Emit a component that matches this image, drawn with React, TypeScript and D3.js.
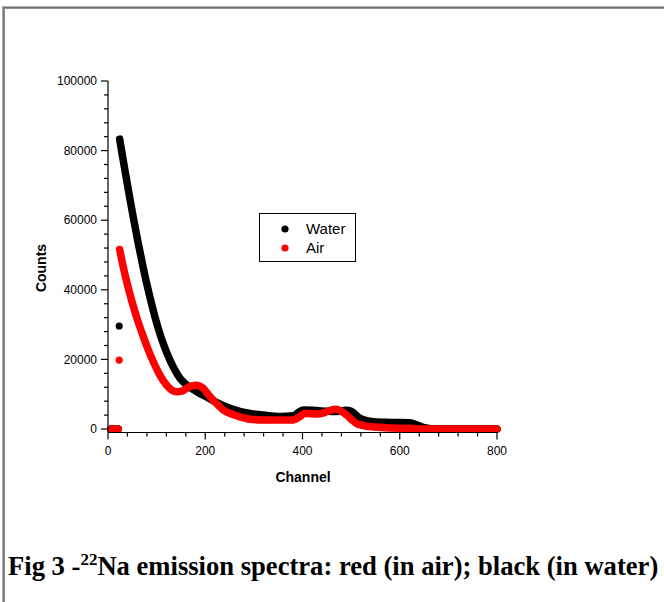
import React from "react";
import * as d3 from "d3";

const xTicks = [0, 200, 400, 600, 800];
const yTicks = [0, 20000, 40000, 60000, 80000, 100000];

// zero-count channels at the start of each spectrum
const zeroChannels = [6, 10, 14, 18, 21];

// Water (black) spectrum: [channel, counts]
const waterSpectrum: [number, number][] = [
  [24, 83300], [30, 78300], [36, 73400], [44, 67000], [52, 60800], [62, 53500],
  [73, 46000], [85, 38600], [97, 32000], [109, 26400], [121, 21900], [135, 17600],
  [148, 14600], [165, 12300], [182, 10800], [200, 9400], [224, 7600], [248, 6100],
  [271, 5100], [292, 4500], [320, 4000], [354, 3600], [381, 3800], [392, 4800],
  [402, 5500], [429, 5300], [450, 5100], [470, 5000], [490, 5400], [500, 5100],
  [518, 3100], [532, 2400], [546, 2100], [580, 1900], [621, 1800], [635, 1200],
  [648, 500], [665, 100], [700, 0], [800, 0],
];

// Air (red) spectrum: [channel, counts]
const airSpectrum: [number, number][] = [
  [24, 51600], [31, 46800], [38, 42600], [45, 38800], [52, 35300], [62, 30800],
  [73, 26400], [83, 22700], [93, 19400], [107, 15400], [121, 12500], [131, 11200],
  [141, 10700], [152, 10900], [162, 11700], [172, 12400], [182, 12600], [195, 11800],
  [210, 9300], [224, 7200], [237, 5500], [254, 4300], [271, 3500], [292, 2800],
  [320, 2600], [354, 2600], [381, 2600], [394, 3500], [405, 4500], [429, 4300],
  [445, 4700], [456, 5300], [469, 5700], [480, 5100], [491, 4000], [501, 2700],
  [511, 1600], [525, 1000], [539, 700], [580, 300], [621, 200], [650, 0], [800, 0],
];

// isolated points just before each spectrum's onset
const waterOutlier: [number, number] = [23, 29600];
const airOutlier: [number, number] = [23, 19800];

const series = [
  { name: "Water", color: "#000000", data: waterSpectrum, outlier: waterOutlier },
  { name: "Air", color: "#ff0000", data: airSpectrum, outlier: airOutlier },
];

const W = 664;
const H = 602;

export default function App() {
  const x = d3.scaleLinear().domain([0, 800]).range([108, 497]);
  const y = d3.scaleLinear().domain([-1000, 100000]).range([432.5, 81]);
  const line = d3
    .line<[number, number]>()
    .x((d) => x(d[0]))
    .y((d) => y(d[1]))
    .curve(d3.curveMonotoneX);

  const xMinor = d3.range(0, 801, 40).filter((v) => !xTicks.includes(v));
  const yMinor = d3.range(0, 100001, 4000).filter((v) => !yTicks.includes(v));
  const axisY = y(-1000);
  const font = "'Liberation Sans', Arial, sans-serif";

  return (
    <svg
      width={W}
      height={H}
      style={{ position: "absolute", left: 0, top: 0, background: "#fff" }}
    >
      {/* outer frame */}
      <rect x={2.5} y={6.5} width={800} height={800} fill="none" stroke="#b0b0b0" strokeWidth={1} />
      <rect x={3.5} y={7.5} width={800} height={800} fill="none" stroke="#707070" strokeWidth={1} />
      <rect x={4.5} y={8.5} width={800} height={800} fill="none" stroke="#909090" strokeWidth={1} />

      {/* series */}
      {series.map((s) => (
        <g key={s.name}>
          <line
            x1={x(zeroChannels[0])}
            x2={x(zeroChannels[zeroChannels.length - 1])}
            y1={y(0)}
            y2={y(0)}
            stroke={s.color}
            strokeWidth={7.5}
            strokeLinecap="round"
          />
          <circle cx={x(s.outlier[0])} cy={y(s.outlier[1])} r={3.6} fill={s.color} />
          <path
            d={line(s.data) || ""}
            fill="none"
            stroke={s.color}
            strokeWidth={7.5}
            strokeLinecap="round"
            strokeLinejoin="round"
          />
        </g>
      ))}

      {/* axes */}
      <g stroke="#000" strokeWidth={1.2}>
        <line x1={108} x2={108} y1={81} y2={axisY} />
        <line x1={108} x2={497} y1={axisY} y2={axisY} />
        {yTicks.map((t) => (
          <line key={"yt" + t} x1={101} x2={108} y1={y(t)} y2={y(t)} />
        ))}
        {yMinor.map((t) => (
          <line key={"ym" + t} x1={104} x2={108} y1={y(t)} y2={y(t)} />
        ))}
        {xTicks.map((t) => (
          <line key={"xt" + t} x1={x(t)} x2={x(t)} y1={axisY} y2={axisY + 7} />
        ))}
        {xMinor.map((t) => (
          <line key={"xm" + t} x1={x(t)} x2={x(t)} y1={axisY} y2={axisY + 4} />
        ))}
      </g>
      <g fontFamily={font} fontSize={12} fill="#000">
        {yTicks.map((t) => (
          <text key={"yl" + t} x={97} y={y(t)} dy="0.35em" textAnchor="end">
            {t}
          </text>
        ))}
        {xTicks.map((t) => (
          <text key={"xl" + t} x={x(t)} y={axisY + 22} textAnchor="middle">
            {t}
          </text>
        ))}
      </g>
      <text
        x={303}
        y={482}
        fontFamily={font}
        fontSize={14}
        fontWeight="bold"
        textAnchor="middle"
      >
        Channel
      </text>
      <text
        transform="translate(46,268) rotate(-90)"
        fontFamily={font}
        fontSize={14}
        fontWeight="bold"
        textAnchor="middle"
      >
        Counts
      </text>

      {/* legend */}
      <rect x={259.5} y={213.5} width={96} height={48} fill="#fff" stroke="#000" strokeWidth={1} />
      {series.map((s, i) => (
        <g key={"lg" + s.name}>
          <circle cx={285} cy={229 + i * 19} r={3.6} fill={s.color} />
          <text x={306} y={229 + i * 19} dy="0.35em" fontFamily={font} fontSize={15} fill="#000">
            {s.name}
          </text>
        </g>
      ))}

      {/* caption */}
      <text
        x={8}
        y={575}
        fontFamily="'Liberation Serif', 'Times New Roman', serif"
        fontSize={26.6}
        fontWeight="bold"
        fill="#000"
      >
        Fig 3 -<tspan dy={-10} fontSize={17}>22</tspan>
        <tspan dy={10}>Na emission spectra: red (in air); black (in water)</tspan>
      </text>
    </svg>
  );
}
